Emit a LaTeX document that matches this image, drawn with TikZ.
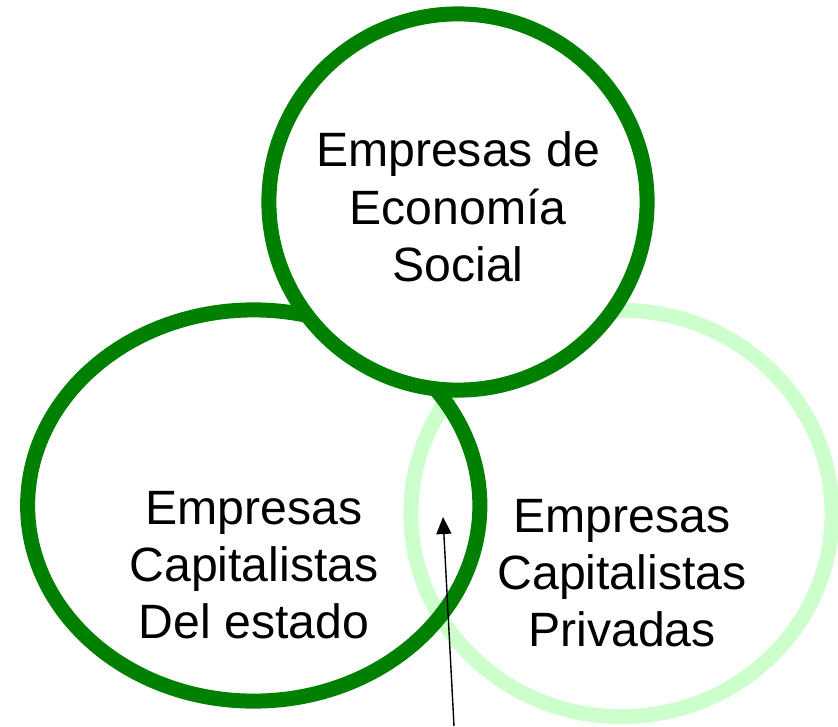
\documentclass[tikz,border=0pt]{standalone}
\usepackage{fontspec}
\setmainfont{Liberation Sans}
\usetikzlibrary{shapes.geometric, arrows.meta}
\definecolor{ringdark}{HTML}{008000}
\definecolor{ringlight}{HTML}{CCFFCC}

\begin{document}
\begin{tikzpicture}[x=0.01cm, y=-0.01cm,
        ring/.style={ellipse, draw, line width=0.15cm, inner sep=0pt},
        label/.style={align=center, font=\fontsize{13.7}{16.3}\selectfont},
        arrow/.style={-{Triangle[length=0.17cm, width=0.15cm]}, line width=0.4pt}
    ]
    \useasboundingbox (0,0) rectangle (838,726);
    % Rings
    \node[ring, draw=ringlight, minimum width=4.21cm, minimum height=4.06cm] (priv) at (621.5,513.5) {};
    \node[ring, draw=ringdark, minimum width=4.52cm, minimum height=3.91cm] (estado) at (253.75,505.5) {};
    \node[ring, draw=ringdark, fill=white, minimum width=3.78cm, minimum height=3.76cm] (social) at (458,202) {};

    % Texts
    \node[label] (tsocial) at (458,207) {Empresas de\\Economía\\Social};
    \node[label] (testado) at (254,565) {Empresas\\Capitalistas\\Del estado};
    \node[label] (tpriv) at (622,573) {Empresas\\Capitalistas\\Privadas};

    % Pointer
    \coordinate (tail) at (454,726);
    \coordinate (tip) at (443,517);
    \draw[arrow] (tail) -- (tip);
\end{tikzpicture}
\end{document}
